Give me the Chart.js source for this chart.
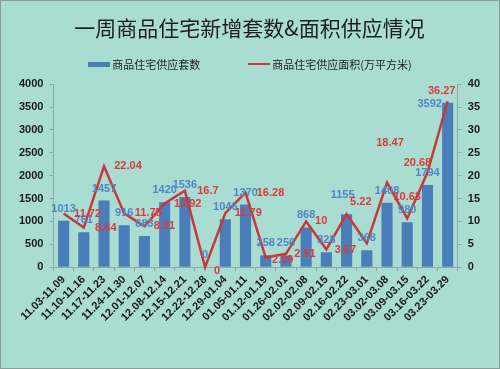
<!DOCTYPE html>
<html>
<head>
<meta charset="utf-8">
<script src="https://cdn.jsdelivr.net/npm/chart.js@4.4.0/dist/chart.umd.min.js"></script>
<style>
  html, body { margin: 0; padding: 0; background: #a9ddd1; }
  #wrap { position: relative; width: 498px; height: 367px; border: 1px solid #8c9c98; background: #a9ddd1; }
  #legend { position: absolute; top: 55px; left: 0; width: 100%; display: flex; justify-content: center; gap: 48px;
            font: 11px "Noto Sans CJK SC", sans-serif; color: #222; }
  .item { display: flex; align-items: center; gap: 2px; white-space: nowrap; }
  .swatch { width: 22px; height: 5px; }
  .swatch.line { height: 2px; }
</style>
</head>
<body>
<div id="wrap">
  <canvas id="chart"></canvas>
  <div id="legend"></div>
</div>
<script>
// weekly supply data
const weeks = ['11.03-11.09', '11.10-11.16', '11.17-11.23', '11.24-11.30', '12.01-12.07',
  '12.08-12.14', '12.15-12.21', '12.22-12.28', '12.29-01.04', '01.05-01.11',
  '01.12-01.19', '01.26-02.01', '02.02-02.08', '02.09-02.15', '02.16-02.22',
  '02.23-03.01', '03.02-03.08', '03.09-03.15', '03.16-03.22', '03.23-03.29'];
const supplyUnits = [1013, 761, 1457, 916, 683, 1420, 1536, 0, 1046, 1370,
  258, 256, 868, 328, 1155, 368, 1408, 980, 1794, 3592];
const supplyArea = [11.72, 8.64, 22.04, 11.75, 8.91, 13.92, 16.7, 0, 11.79, 16.28,
  2.09, 2.91, 10, 3.87, 11.6, 5.22, 18.47, 10.63, 20.68, 36.27];
const unitsAxis = { max: 4000, step: 500 };
const areaAxis = { max: 40, step: 5 };
const seriesNames = ['商品住宅供应套数', '商品住宅供应面积(万平方米)'];

const BLUE = '#4a7ebb';
const RED = '#c9373b';
const LABEL_RED = '#d93b3b';
const LABEL_BLUE = '#4f86c6';

// label nudges (dx, dy in px) – null means the label is hidden like in the original
const barLabelShift = { 14: [-4, -7], 19: [-18, 13] };
const lineLabelShift = [[24, 0], [22, 0], [24, 0], [24, 0], [20, 0], [23, 0], [23, 0], [12, 4], [23, 0], [25, 0],
  [17, 2], [19, 0], [15, 0], [19, 1], null, [-6, -41], [3, -40], [0, -22], [-10, -10], [-6, -10]];

// html legend
const legendEl = document.getElementById('legend');
seriesNames.forEach((name, i) => {
  const item = document.createElement('div');
  item.className = 'item';
  item.innerHTML = `<span class="swatch ${i ? 'line' : ''}" style="background:${i ? RED : BLUE}"></span><span>${name}</span>`;
  legendEl.appendChild(item);
});

const valueLabels = {
  id: 'valueLabels',
  afterDatasetsDraw(chart) {
    const ctx = chart.ctx;
    ctx.save();
    ctx.font = 'bold 11px "Liberation Sans", Arial, sans-serif';
    ctx.textAlign = 'center';
    ctx.textBaseline = 'middle';

    // bar values above bars
    ctx.fillStyle = LABEL_BLUE;
    chart.getDatasetMeta(0).data.forEach((bar, i) => {
      const s = barLabelShift[i] || [0, 0];
      ctx.fillText(String(supplyUnits[i]), bar.x + s[0], bar.y - 12 + s[1]);
    });

    // area values beside points
    ctx.fillStyle = LABEL_RED;
    chart.getDatasetMeta(1).data.forEach((pt, i) => {
      const s = lineLabelShift[i];
      if (!s) return;
      ctx.fillText(String(supplyArea[i]), pt.x + s[0], pt.y + s[1]);
    });
    ctx.restore();
  }
};

const axisColor = '#8ea9a2';
const tickFont = { family: '"Liberation Sans", Arial, sans-serif', size: 11, weight: 'bold' };
const plain = v => String(v);

new Chart(document.getElementById('chart').getContext('2d'), {
  type: 'bar',
  data: {
    labels: weeks,
    datasets: [
      {
        label: seriesNames[0],
        data: supplyUnits,
        backgroundColor: BLUE,
        barPercentage: 0.55,
        categoryPercentage: 1,
        yAxisID: 'y',
        order: 2
      },
      {
        type: 'line',
        label: seriesNames[1],
        data: supplyArea,
        borderColor: RED,
        backgroundColor: RED,
        borderWidth: 2.5,
        pointRadius: 0,
        tension: 0,
        clip: false,
        yAxisID: 'y1',
        order: 1
      }
    ]
  },
  options: {
    responsive: true,
    maintainAspectRatio: false,
    animation: false,
    layout: { padding: { left: 12, right: 13, bottom: 42 } },
    plugins: {
      legend: { display: false },
      tooltip: { enabled: false },
      title: {
        display: true,
        text: '一周商品住宅新增套数&面积供应情况',
        color: '#1e1e1e',
        font: { family: '"Noto Sans CJK SC", sans-serif', size: 21, weight: 'normal' },
        padding: { top: 14, bottom: 44 }
      }
    },
    scales: {
      x: {
        grid: { drawOnChartArea: false, color: axisColor, tickLength: 4, offset: true },
        border: { color: axisColor },
        ticks: { color: '#1a1a1a', font: tickFont, minRotation: 45, maxRotation: 45, autoSkip: false, padding: 2 }
      },
      y: {
        position: 'left',
        min: 0,
        max: unitsAxis.max,
        grid: { drawOnChartArea: false, color: axisColor, tickLength: 4 },
        border: { color: axisColor },
        ticks: { stepSize: unitsAxis.step, color: '#1a1a1a', font: tickFont, padding: 6, callback: plain }
      },
      y1: {
        position: 'right',
        min: 0,
        max: areaAxis.max,
        grid: { drawOnChartArea: false, color: axisColor, tickLength: 4 },
        border: { color: axisColor },
        ticks: { stepSize: areaAxis.step, color: '#1a1a1a', font: tickFont, padding: 6, callback: plain }
      }
    }
  },
  plugins: [valueLabels]
});
</script>
</body>
</html>
